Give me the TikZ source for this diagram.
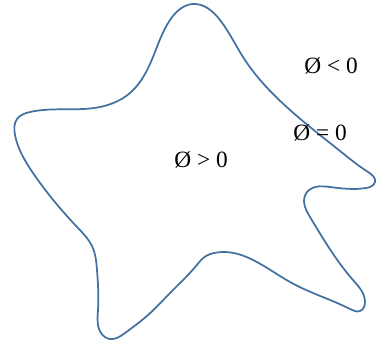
\documentclass[tikz,border=0pt]{standalone}
\usepackage{fontspec}
\setmainfont{Liberation Serif}
\usetikzlibrary{hobby}
\definecolor{curveblue}{RGB}{66,112,160}
\begin{document}
\begin{tikzpicture}[x=0.75pt,y=-0.75pt,
  boundary/.style={draw=curveblue,line width=1.3pt,line join=round},
  lbl/.style={font=\fontsize{17.5}{20}\selectfont,inner sep=0pt}]
\useasboundingbox (0,0) rectangle (377,349);
\draw[boundary,closed hobby] plot coordinates {
(193,4) (220,20) (243,57) (290,110) (340,151) (368,172)
(375,182) (366,188) (330,187) (309,190) (304,201) (310,217)
(353,280) (365,302) (360,311) (350,309) (290,282)
(214,253) (206,256) (196,266) (172,291) (148,315) (125,333) (110,339) (101,333)
(98,310) (97,270) (92,246) (78,228) (33,173) (15,135)
(17,119) (30,112) (100,107) (130,93) (153,57) (170,20)};
\node[lbl] (inside) at (201,160) {Ø > 0};
\node[lbl] (outside) at (331,66) {Ø < 0};
\node[lbl] (zero) at (320,133) {Ø = 0};
\end{tikzpicture}
\end{document}
